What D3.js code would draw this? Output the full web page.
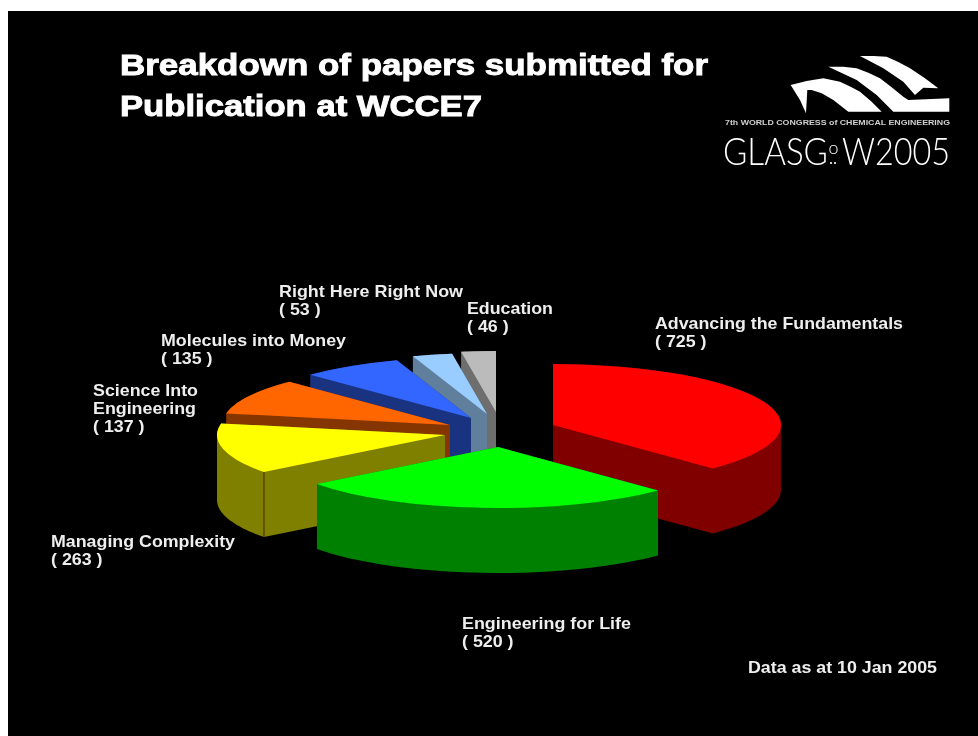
<!DOCTYPE html>
<html>
<head>
<meta charset="utf-8">
<script src="https://cdn.jsdelivr.net/npm/d3@7"></script>
<style>
  html, body { margin: 0; padding: 0; background: #fff; overflow: hidden; }
  text { font-family: "Liberation Sans", Arial, sans-serif; font-weight: bold; }
</style>
</head>
<body>
<script>
// Chart data
var categories = ["Advancing the Fundamentals", "Engineering for Life", "Managing Complexity",
                  "Science Into|Engineering", "Molecules into Money", "Right Here Right Now", "Education"];
var paperCounts = [725, 520, 263, 137, 135, 53, 46];
var topColors = ["#ff0000", "#00ff00", "#ffff00", "#ff6600", "#3366ff", "#99ccff", "#bbbbbb"];
var sideColors = ["#800000", "#008000", "#808000", "#853500", "#1a3380", "#5f7f9c", "#6e6e6e"];

var titleLines = ["Breakdown of papers submitted for", "Publication at WCCE7"];
var footnote = "Data as at 10 Jan 2005";

// Define SVG area dimensions
var svgWidth = 978;
var svgHeight = 736;

// Pie geometry: outer radius, flattening of the tilted disc and wall height
var pieRadius = 228;
var pieFlatten = 61 / 228;
var pieDepth = 65;

// Where the tip of each exploded slice ends up
var sliceTips = [[553, 425], [498, 447], [445, 435], [450, 425], [471, 418], [487, 414], [496, 412]];
// Back to front, so nearer slices hide the walls of those behind
var paintOrder = [6, 5, 4, 3, 2, 0, 1];

// Label x, first baseline and width of the first line
var labelSpots = [[655, 329, 248], [462, 629, 169], [51, 547, 184], [93, 396, 105],
                  [161, 346, 185], [279, 297, 184], [467, 314, 86]];
var labelLineGap = 18;
var labelStretch = 1.08;

// The slide's 3D view pulls the slice edges round a little, in degrees
var viewAngle = d3.scaleLinear()
                  .domain([0, 140, 240, 290, 315, 360])
                  .range([0, 136.5, 234, 282, 315, 360]);

function drawnAngle(radians) {
  return viewAngle(radians * 180 / Math.PI) * Math.PI / 180;
}

var svg = d3.select("body")
            .append("svg")
            .attr("width", svgWidth)
            .attr("height", svgHeight)
            .style("display", "block");

// Soft edges, the slide is a scaled down bitmap
var soft = svg.append("defs").append("filter").attr("id", "soft");
soft.append("feGaussianBlur").attr("stdDeviation", 0.55);

svg.append("rect")
   .attr("x", 8)
   .attr("y", 11)
   .attr("width", svgWidth - 8)
   .attr("height", svgHeight - 11)
   .attr("fill", "#000");

// Title
svg.selectAll(".title")
   .data(titleLines)
   .enter()
   .append("text")
   .attr("class", "title")
   .attr("x", 120)
   .attr("y", function(d, i) { return 75 + i * 41; })
   .attr("textLength", function(d, i) { return i === 0 ? 588 : 362; })
   .attr("lengthAdjust", "spacingAndGlyphs")
   .attr("font-size", 29)
   .attr("fill", "#fff")
   .attr("stroke", "#fff")
   .attr("stroke-width", 0.9)
   .attr("filter", "url(#soft)")
   .text(function(d) { return d; });

// Pie slices
var slices = d3.pie().sort(null).startAngle(0).endAngle(2 * Math.PI)(paperCounts)
               .map(function(s) {
                 return { startAngle: drawnAngle(s.startAngle), endAngle: drawnAngle(s.endAngle) };
               });
var arcPath = d3.arc().innerRadius(0).outerRadius(pieRadius);

function rimPoints(slice, tip) {
  var steps = d3.range(0, 41).map(function(i) {
    var a = slice.startAngle + (slice.endAngle - slice.startAngle) * i / 40;
    return [tip[0] + pieRadius * Math.sin(a), tip[1] - pieRadius * pieFlatten * Math.cos(a)];
  });
  steps.push(tip);
  return steps;
}

var pieGroup = svg.append("g").attr("class", "pie");

paintOrder.forEach(function(i) {
  var slice = slices[i];
  var tip = sliceTips[i];
  var rim = rimPoints(slice, tip);
  var lowered = rim.map(function(p) { return [p[0], p[1] + pieDepth]; });

  // Every slice is under 180 degrees, so its solid is the hull of both faces
  pieGroup.append("path")
          .attr("d", "M" + d3.polygonHull(rim.concat(lowered)).join("L") + "Z")
          .attr("fill", sideColors[i]);

  // The seam between rim wall and cut wall only shows on the yellow slice
  if (i === 2) {
    pieGroup.append("line")
            .attr("x1", rim[0][0])
            .attr("y1", rim[0][1])
            .attr("x2", lowered[0][0])
            .attr("y2", lowered[0][1])
            .attr("stroke", "#5c4300")
            .attr("stroke-width", 1.5);
  }

  pieGroup.append("path")
          .attr("d", arcPath(slice))
          .attr("transform", "translate(" + tip[0] + "," + tip[1] + ") scale(1," + pieFlatten + ")")
          .attr("fill", topColors[i]);
});

// Slice labels
var labelGroup = svg.append("g").attr("filter", "url(#soft)");

categories.forEach(function(name, i) {
  var spot = labelSpots[i];
  var lines = name.split("|").concat("( " + paperCounts[i] + " )");
  lines.forEach(function(line, j) {
    var label = labelGroup.append("text")
                          .attr("x", spot[0])
                          .attr("y", spot[1] + j * labelLineGap)
                          .attr("font-size", 16.5)
                          .attr("fill", "#eeeeee")
                          .text(line);
    var stretched = j === 0 ? spot[2] : label.node().getComputedTextLength() * labelStretch;
    label.attr("textLength", stretched).attr("lengthAdjust", "spacingAndGlyphs");
  });
});

labelGroup.append("text")
          .attr("x", 748)
          .attr("y", 673)
          .attr("textLength", 189)
          .attr("lengthAdjust", "spacingAndGlyphs")
          .attr("font-size", 16)
          .attr("fill", "#eeeeee")
          .text(footnote);

// Congress logo: three roof shapes traced in a 3x grid, then the wordmark
var roofShapes = [
  [[272,135],[320,123],[370,115],[420,125],[452,140],[480,155],[515,185],[545,215],[445,215],[400,180],[365,160],[335,150],[322,150],[318,220],[300,180]],
  [[385,80],[430,80],[470,85],[505,98],[540,115],[575,142],[610,170],[625,180],[748,175],[748,215],[580,215],[530,165],[470,120]],
  [[480,48],[520,48],[560,50],[595,66],[630,85],[675,115],[715,145],[670,143],[645,165],[610,125],[550,85]]
];

var logo = svg.append("g").attr("transform", "translate(700,40)").attr("filter", "url(#soft)");

logo.selectAll("path")
    .data(roofShapes)
    .enter()
    .append("path")
    .attr("transform", "scale(0.3333)")
    .attr("d", function(d) { return "M" + d.join("L") + "Z"; })
    .attr("fill", "#fff");

logo.append("text")
    .attr("x", 25)
    .attr("y", 85)
    .attr("textLength", 225)
    .attr("lengthAdjust", "spacingAndGlyphs")
    .attr("font-size", 6.5)
    .attr("fill", "#cfcfcf")
    .text("7th WORLD CONGRESS of CHEMICAL ENGINEERING");

// Wordmark pieces: text, x, width, baseline, size
var wordmarkParts = [["GLASG", 23, 105, 125, 37], ["o", 128.5, 10, 114, 17], ["W2005", 142, 108, 125, 37]];

logo.selectAll(".wordmark")
    .data(wordmarkParts)
    .enter()
    .append("text")
    .attr("class", "wordmark")
    .attr("x", function(d) { return d[1]; })
    .attr("y", function(d) { return d[3]; })
    .attr("textLength", function(d) { return d[2]; })
    .attr("lengthAdjust", "spacingAndGlyphs")
    .attr("font-size", function(d) { return d[4]; })
    .attr("fill", "#fff")
    .style("font-family", "Lato, sans-serif")
    .style("font-weight", 300)
    .text(function(d) { return d[0]; });

// The two dots under the small o
logo.selectAll("circle")
    .data([131, 135])
    .enter()
    .append("circle")
    .attr("cx", function(d) { return d; })
    .attr("cy", 123)
    .attr("r", 1.1)
    .attr("fill", "#fff");
</script>
</body>
</html>
